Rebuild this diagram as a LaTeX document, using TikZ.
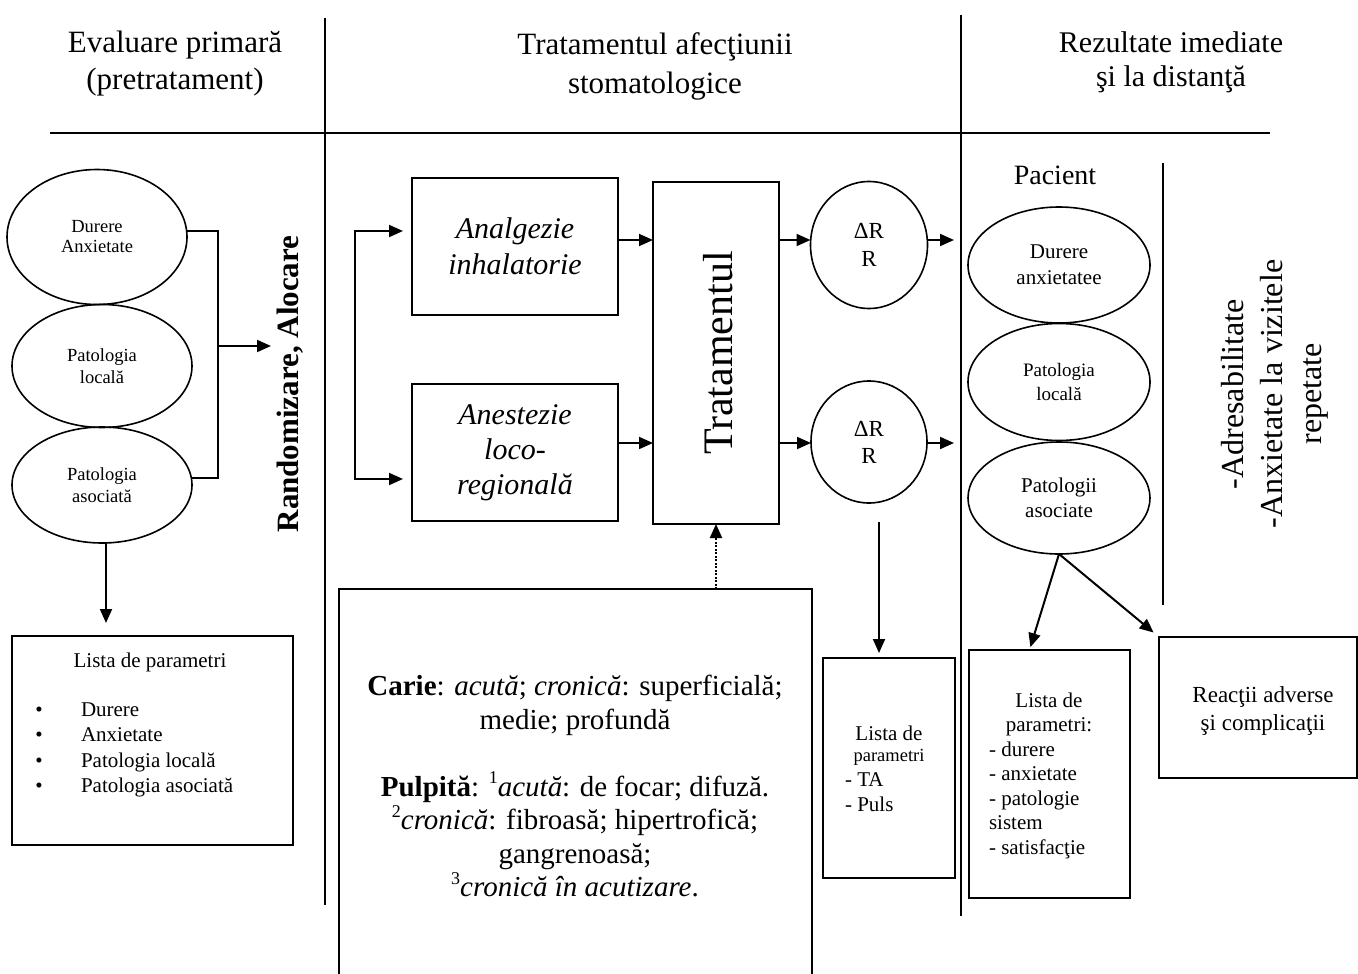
\documentclass[tikz,border=0pt]{standalone}
\usepackage{fontspec}
\setmainfont{Liberation Serif}
\usetikzlibrary{shapes.geometric,arrows.meta}
\newcommand{\fz}[2]{\fontsize{#1}{#2}\selectfont}
\newcommand{\mysup}[1]{\raisebox{0.42em}{\fontsize{18}{18}\selectfont\upshape #1}}
\begin{document}
\begin{tikzpicture}[x=1pt,y=-1pt,
  every node/.style={inner sep=0pt, outer sep=0pt},
  arr/.style={line width=2pt, -{Triangle[length=14pt,width=12pt]}},
  box/.style={draw, line width=1.8pt, rectangle},
  ell/.style={draw, line width=1.6pt, ellipse, align=center},
  div/.style={line width=1.6pt},
  lbl/.style={align=center}]
\useasboundingbox (0,0) rectangle (1358,974);
\clip (0,0) rectangle (1358,974);
% headers and dividers
\node[lbl, font=\fz{31}{37}] (h1) at (175,64) {Evaluare primară\\(pretratament)};
\node[lbl, font=\fz{31}{39}] (h2) at (655,66) {Tratamentul afecţiunii\\stomatologice};
\node[lbl, font=\fz{30}{34}] (h3) at (1171,62) {Rezultate imediate\\şi la distanţă};
\draw[line width=2.2pt] (50,133) -- (1270,133);
\draw[div] (325,18) -- (325,905);
\draw[div] (961,15) -- (961,916);
\draw[div] (1163,163) -- (1163,605);
% left column
\node[ell, minimum width=180, minimum height=135, font=\fz{18.5}{20}] (e1) at (97,237) {Durere\\Anxietate};
\node[ell, minimum width=180, minimum height=123, font=\fz{18.5}{22}] (e2) at (102,366) {Patologia\\locală};
\node[ell, minimum width=180, minimum height=116, font=\fz{18.5}{22}] (e3) at (102,485) {Patologia\\asociată};
\coordinate (brk) at (218,346);
\coordinate (randin) at (271,346);
\draw[line width=1.8pt] ([yshift=6pt]e1.east) -| (brk) |- ([yshift=7pt]e3.east);
\draw[arr] (brk) -- (randin);
\node[rotate=90, font=\bfseries\fz{31}{36}] (rand) at (290,384) {Randomizare, Alocare};
\node[box, minimum width=281, minimum height=209] (l1) at (152.5,740.5) {};
\node[font=\fz{21}{25}] (l1t) at (150,662) {Lista de parametri};
\node[align=center, font=\fz{21}{25.5}] (l1d) at (39,750) {•\\•\\•\\•};
\node[align=left, anchor=west, font=\fz{21}{25.5}] (l1b) at (81,750) {Durere\\Anxietate\\Patologia locală\\Patologia asociată};
\draw[arr, shorten >=13pt] ([xshift=4pt]e3.south) -- ([xshift=4pt]e3.south |- l1.north);
% middle column
\coordinate (sp) at (355,355);
\coordinate (ta) at (403,231);
\coordinate (tb) at (403,479);
\draw[arr] (sp) |- (ta);
\draw[arr] (sp) |- (tb);
\node[box, minimum width=206, minimum height=137, align=center, font=\itshape\fz{30}{36}] (a) at (515,246.5) {Analgezie\\inhalatorie};
\node[box, minimum width=206, minimum height=137, align=center, font=\itshape\fz{30}{35}] (b) at (515,452.5) {Anestezie\\loco-\\regională};
\node[box, minimum width=126, minimum height=342] (t) at (716,353) {};
\node[rotate=90, font=\fz{42}{48}] (tt) at (718,353) {Tratamentul};
\draw[arr] ([yshift=6.5pt]a.east) -- ([yshift=6.5pt]a.east -| t.west);
\draw[arr] ([yshift=9.5pt]b.east) -- ([yshift=9.5pt]b.east -| t.west);
\node[ell, minimum width=117, minimum height=127, font=\fz{23}{28}] (c1) at (869,245) {ΔR\\R};
\node[ell, minimum width=116, minimum height=122, font=\fz{23}{27}] (c2) at (869,442) {ΔR\\R};
\draw[arr] ([yshift=5pt]c1.west -| t.east) -- ([yshift=5pt]c1.west);
\draw[arr] ([yshift=-1pt]c2.west -| t.east) -- ([yshift=-1pt]c2.west);
\coordinate (o1) at (954,240);
\coordinate (o2) at (954,443);
\draw[arr] ([yshift=5pt]c1.east) -- (o1);
\draw[arr] ([yshift=-1pt]c2.east) -- (o2);
\node[minimum width=473, minimum height=400] (big) at (575.5,789) {};
\draw[line width=1.8pt] (big.south west) -- (big.north west) -- (big.north east) -- (big.south east);
\node[align=center, font=\fz{29}{33.5}] (bigt) at (575,786) {\textbf{Carie}: \textit{acută}; \textit{cronică}: superficială;\\ medie; profundă\\[33.5pt] \textbf{Pulpită}: \mysup{1}\textit{acută}: de focar; difuză.\\ \mysup{2}\textit{cronică}: fibroasă; hipertrofică;\\ gangrenoasă;\\ \mysup{3}\textit{cronică în acutizare}.};
\draw[arr, dash pattern=on 2pt off 1.5pt] (t.south |- big.north) -- (t.south);
\node[box, minimum width=132, minimum height=220] (l3) at (889,768) {};
\node[font=\fz{21}{24}] (l3a) at (889,733) {Lista de};
\node[font=\fz{18.5}{22}] (l3b) at (889,757) {parametri};
\node[align=left, anchor=west, font=\fz{21}{25}] (l3c) at (845,792) {- TA\\- Puls};
\draw[arr, shorten >=5pt] ([xshift=10pt,yshift=-19pt]c2.south) -- ([xshift=10pt]c2.south |- l3.north);
% right column
\node[font=\fz{28}{32}] (pac) at (1055,175) {Pacient};
\node[ell, minimum width=182, minimum height=116, font=\fz{21}{26}] (r1) at (1059,265) {Durere\\anxietatee};
\node[ell, minimum width=182, minimum height=117, font=\fz{19}{24}] (r2) at (1059,382) {Patologia\\locală};
\node[ell, minimum width=182, minimum height=112, font=\fz{21}{25}] (r3) at (1059,498) {Patologii\\asociate};
\node[rotate=90, align=center, font=\fz{32}{39}] (adr) at (1275,394) {-Adresabilitate\\-Anxietate la vizitele\\repetate};
\node[box, minimum width=161, minimum height=248] (l2) at (1049.5,774) {};
\node[font=\fz{21}{24.5}, align=center] (l2t) at (1049,714.5) {Lista de\\parametri:};
\node[align=left, anchor=west, font=\fz{21}{24.5}] (l2b) at (989,800) {- durere\\- anxietate\\- patologie\\sistem\\- satisfacţie};
\node[box, minimum width=198, minimum height=141] (rc) at (1258,707.5) {};
\node[align=center, font=\fz{23}{28}] (rct) at (1263,711) {Reacţii adverse\\şi complicaţii};
\draw[arr, shorten >=3pt] (r3.south) -- ([xshift=-20pt]l2.north);
\draw[arr, shorten >=7pt] (r3.south) -- (rc.north west);
\end{tikzpicture}
\end{document}
